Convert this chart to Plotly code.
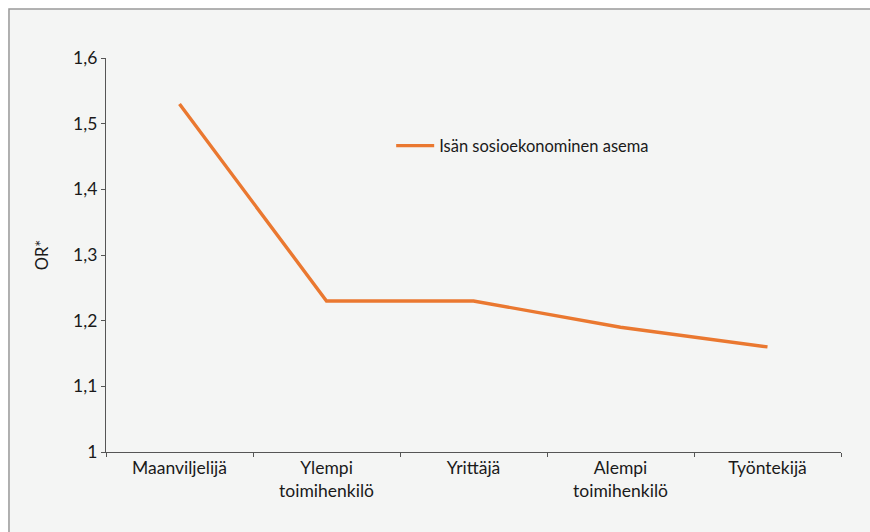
import plotly.graph_objects as go

categories = ["Maanviljelijä", "Ylempi<br>toimihenkilö", "Yrittäjä", "Alempi<br>toimihenkilö", "Työntekijä"]
values = [1.53, 1.23, 1.23, 1.19, 1.16]
series_name = "Isän sosioekonominen asema"
y_tickvals = [1.0, 1.1, 1.2, 1.3, 1.4, 1.5, 1.6]
y_ticktext = ["1", "1,1", "1,2", "1,3", "1,4", "1,5", "1,6"]

FONT = "Lato"
fig = go.Figure()
fig.add_trace(go.Scatter(x=categories, y=values, mode="lines", name=series_name,
                         line=dict(color="#ea7830", width=3.4), showlegend=True))

fig.update_layout(
    width=870, height=532,
    margin=dict(l=106, r=29, t=58, b=80),
    paper_bgcolor="white",
    plot_bgcolor="rgba(0,0,0,0)",
    font=dict(family=FONT, size=17.5, color="#1a1a1a"),
    showlegend=True,
    legend=dict(x=0.388, y=0.777, xanchor="left", yanchor="middle",
                itemwidth=38,
                bgcolor="rgba(0,0,0,0)", font=dict(size=16.5, family=FONT)),
    shapes=[dict(type="rect", xref="paper", yref="paper",
                 x0=-0.132, x1=1.2, y0=-0.4, y1=1.1244,
                 fillcolor="#f4f5f4", line=dict(color="#999999", width=1.5),
                 layer="below")],
)
fig.update_xaxes(type="category", range=[-0.5, 4.5], tickson="boundaries",
                 ticks="outside", ticklen=4, tickcolor="#555", tickwidth=1,
                 showline=True, linecolor="#555", linewidth=1.2,
                 showgrid=False, zeroline=False, tickfont=dict(size=17.5))
fig.update_yaxes(range=[1.0, 1.6], tickvals=y_tickvals, ticktext=y_ticktext,
                 ticks="outside", ticklen=4, tickcolor="#555", tickwidth=1,
                 showline=True, linecolor="#555", linewidth=1.2,
                 showgrid=False, zeroline=False, tickfont=dict(size=17.5),
                 title=dict(text="OR*", font=dict(size=16.5), standoff=20))

fig.write_html("out.html", config={"displayModeBar": False},
               post_script="document.body.style.margin='0';document.body.style.overflow='hidden';")
